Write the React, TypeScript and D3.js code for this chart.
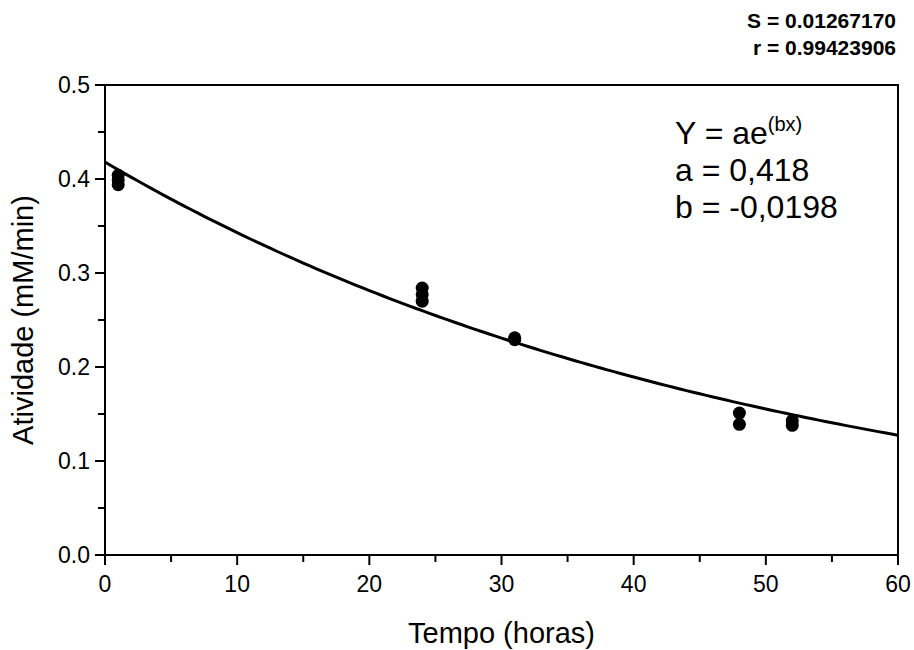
import React from "react";
import * as d3 from "d3";

const xs: number[] = [1, 1, 1, 24, 24, 24, 31, 31, 48, 48, 52, 52];
const ys: number[] = [0.394, 0.399, 0.404, 0.270, 0.277, 0.284, 0.229, 0.231, 0.139, 0.151, 0.138, 0.143];
const fitA = 0.418;
const fitB = -0.0198;
const xTicks: number[] = [0, 10, 20, 30, 40, 50, 60];
const xMinor: number[] = [5, 15, 25, 35, 45, 55];
const yTicks: number[] = [0.0, 0.1, 0.2, 0.3, 0.4, 0.5];
const yMinor: number[] = [0.05, 0.15, 0.25, 0.35, 0.45];
const statLines: string[] = ["S = 0.01267170", "r = 0.99423906"];
const eqLines: string[] = ["a = 0,418", "b = -0,0198"];

const W = 914, H = 650;
const L = 105, R = 898, T = 85, B = 555;
const FONT = "Arial, 'Liberation Sans', Helvetica, sans-serif";

export default function App() {
  const x = d3.scaleLinear().domain([0, 60]).range([L, R]);
  const y = d3.scaleLinear().domain([0, 0.5]).range([B, T]);
  const curvePts: [number, number][] = d3.range(0, 60.001, 0.5).map((t) => [t, fitA * Math.exp(fitB * t)]);
  const line = d3.line<[number, number]>().x((d) => x(d[0])).y((d) => y(d[1]));

  return (
    <svg width={W} height={H} style={{ position: "absolute", left: 0, top: 0, background: "#fff" }} fontFamily={FONT}>
      <rect x={0} y={0} width={W} height={H} fill="#fff" />
      <rect x={L} y={T} width={R - L} height={B - T} fill="none" stroke="#000" strokeWidth={2} />
      {xTicks.map((t) => (
        <g key={"xt" + t}>
          <line x1={x(t)} x2={x(t)} y1={B} y2={B + 10} stroke="#000" strokeWidth={2} />
          <text x={x(t)} y={592} textAnchor="middle" fontSize={23} fill="#000">{t}</text>
        </g>
      ))}
      {xMinor.map((t) => (
        <line key={"xm" + t} x1={x(t)} x2={x(t)} y1={B} y2={B + 7} stroke="#000" strokeWidth={2} />
      ))}
      {yTicks.map((t) => (
        <g key={"yt" + t}>
          <line x1={L - 10} x2={L} y1={y(t)} y2={y(t)} stroke="#000" strokeWidth={2} />
          <text x={90} y={y(t) + 7.5} textAnchor="end" fontSize={23} fill="#000">{t.toFixed(1)}</text>
        </g>
      ))}
      {yMinor.map((t) => (
        <line key={"ym" + t} x1={L - 7} x2={L} y1={y(t)} y2={y(t)} stroke="#000" strokeWidth={2} />
      ))}
      <text x={(L + R) / 2} y={643} textAnchor="middle" fontSize={29} fill="#000">Tempo (horas)</text>
      <text transform={`translate(33, ${(T + B) / 2}) rotate(-90)`} textAnchor="middle" fontSize={29} fill="#000">Atividade (mM/min)</text>
      <path d={line(curvePts) || ""} fill="none" stroke="#000" strokeWidth={3} />
      {xs.map((v, i) => (
        <circle key={"p" + i} cx={x(v)} cy={y(ys[i])} r={6.5} fill="#000" />
      ))}
      {statLines.map((s, i) => (
        <text key={"s" + i} x={896} y={28 + i * 27} textAnchor="end" fontSize={21} fontWeight="bold" fill="#000">{s}</text>
      ))}
      <text x={675} y={144} fontSize={32} fill="#000">
        Y = ae<tspan dy={-13} fontSize={20}>(bx)</tspan>
      </text>
      {eqLines.map((s, i) => (
        <text key={"e" + i} x={675} y={181 + i * 37} fontSize={32} fill="#000">{s}</text>
      ))}
    </svg>
  );
}
